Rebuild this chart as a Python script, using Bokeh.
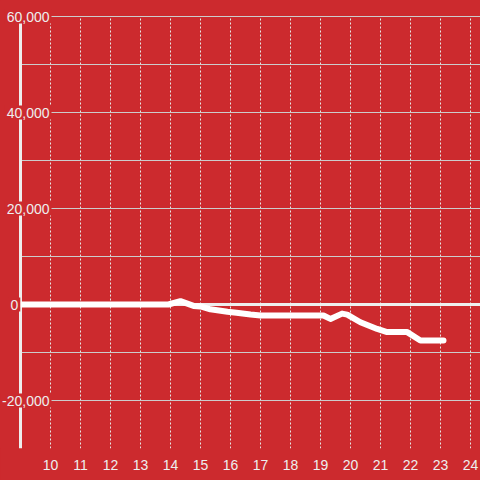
from bokeh.plotting import figure
from bokeh.models import Label, FixedTicker, Range1d
from bokeh.embed import file_html
from bokeh.resources import INLINE

# ---- data ----
hours = [9.0, 13.93, 14.33, 14.77, 15.0, 15.33, 15.9, 16.2, 16.67, 17.0, 19.1,
         19.33, 19.72, 19.89, 20.33, 20.89, 21.22, 21.89, 22.33, 23.1]
values = [0, 0, 700, -300, -400, -1000, -1500, -1700, -2100, -2300, -2300,
          -3000, -1900, -2100, -3700, -5100, -5750, -5750, -7500, -7500]
x_ticks = list(range(10, 25))
y_label_ticks = [60000, 40000, 20000, 0, -20000]
y_grid_ticks = list(range(-30000, 60001, 10000))
x_min, y_min, y_max = 9, -30000, 60000

BG = "#cc2a2e"
FG = "#eeeeee"

PX_X = 30.0            # pixels per hour
PX_Y = 48.0 / 10000    # pixels per unit
x_start = x_min - 20 / PX_X
x_end = x_min + 460 / PX_X
y_top = y_max + 16 / PX_Y

p = figure(width=480, height=480, output_backend="svg", toolbar_location=None,
           x_range=Range1d(x_start, x_end), y_range=Range1d(y_min, y_top),
           y_axis_location=None, min_border_left=0, min_border_right=0,
           min_border_top=0, min_border_bottom=32)
p.background_fill_color = BG
p.border_fill_color = BG
p.outline_line_color = None

# x axis
p.xaxis.ticker = FixedTicker(ticks=x_ticks)
p.xaxis.axis_line_color = None
p.xaxis.major_tick_line_color = None
p.xaxis.minor_tick_line_color = None
p.xaxis.major_label_text_color = FG
p.xaxis.major_label_text_font = "Liberation Sans"
p.xaxis.major_label_text_font_size = "14px"
p.xaxis.major_label_standoff = 5

# grids
p.xgrid.ticker = FixedTicker(ticks=x_ticks)
p.xgrid.grid_line_color = "#e6e6e6"
p.xgrid.grid_line_dash = "2 2"
p.xgrid.grid_line_width = 1
p.xgrid.cross_bounds = (y_min, y_max)
p.ygrid.ticker = FixedTicker(ticks=y_grid_ticks)
p.ygrid.grid_line_color = "#cccccc"
p.ygrid.grid_line_width = 1
p.ygrid.cross_bounds = (x_min, x_end)

# axis line and zero line
p.segment(x0=[x_min], y0=[y_min], x1=[x_min], y1=[y_max], line_color=FG, line_width=3)
p.segment(x0=[x_min], y0=[0], x1=[x_end], y1=[0], line_color=FG, line_width=3)

# data line
p.line(hours, values, line_color="white", line_width=6, line_join="round",
       line_cap="round")

# y tick labels
for v in y_label_ticks:
    if v == 0:
        lab = Label(x=x_min, y=v, text="0", text_align="left", x_offset=-12)
    else:
        lab = Label(x=10, y=v, text=f"{v:,}", text_align="right", x_offset=1)
    lab.text_baseline = "middle"
    lab.text_color = FG
    lab.text_font = "Liberation Sans"
    lab.text_font_size = "14px"
    lab.background_fill_color = BG
    lab.padding = 2
    p.add_layout(lab)

html = file_html(p, INLINE)
html = html.replace("</head>", "<style>html,body{margin:0;padding:0;background:#cc2a2e;overflow:hidden}</style></head>", 1)
open("out.html", "w").write(html)
